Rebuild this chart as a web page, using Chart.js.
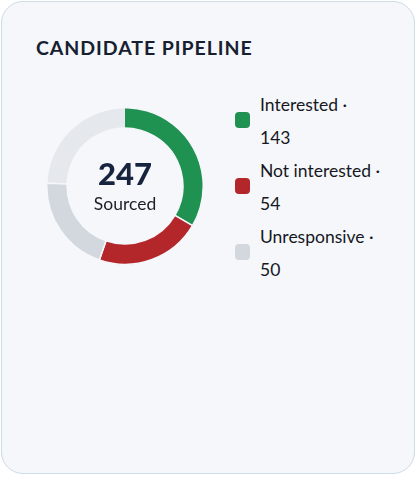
<!DOCTYPE html>
<html>
<head>
<meta charset="utf-8">
<script src="https://cdn.jsdelivr.net/npm/chart.js@4.4.1/dist/chart.umd.min.js"></script>
<style>
  html, body { margin: 0; padding: 0; background: #ffffff; }
  body { width: 418px; height: 477px; position: relative; font-family: Lato, "Open Sans", sans-serif; }
  .card {
    position: absolute; left: 1px; top: 1px; width: 414px; height: 473px;
    border: 1.5px solid #cddce6; border-radius: 22px; background: #f5f7fb;
    box-sizing: border-box;
  }
  .title {
    position: absolute; left: 34px; top: 34px; margin: 0;
    font-size: 19.5px; font-weight: 700; letter-spacing: 0.95px; color: #172030;
  }
  .chartBox { position: absolute; left: 46px; top: 107px; width: 158px; height: 158px; }
  .center {
    position: absolute; left: 46px; top: 107px; width: 158px; height: 158px;
    display: flex; flex-direction: column; align-items: center; justify-content: center;
    pointer-events: none;
  }
  .center .num { font-size: 31px; font-weight: 900; color: #16243d; line-height: 32px; margin-top: 0px; }
  .center .lbl { font-size: 17.5px; color: #1c1f26; line-height: 24px; margin-top: 3px; }
  #legend { position: absolute; left: 235px; top: 88px; margin: 0; padding: 0; list-style: none; }
  #legend li { position: relative; padding-left: 25px; font-size: 17.5px; line-height: 33px; color: #16181d; }
  #legend .box { position: absolute; left: 0; top: 24px; width: 15px; height: 16px; border-radius: 4px; }
</style>
</head>
<body>
<div class="card">
  <h2 class="title">CANDIDATE PIPELINE</h2>
</div>
<div class="chartBox"><canvas id="graficoPipeline"></canvas></div>
<div class="center"><div class="num" id="totalNum"></div><div class="lbl">Sourced</div></div>
<ul id="legend"></ul>

<script>
// dados do gráfico
const categorias = ['Interested', 'Not interested', 'Unresponsive'];
const valores = [143, 54, 50];
const cores = ['#1f9151', '#b3272b', '#d3d8df'];
const corTrilha = '#e5e8ed';
const rotacao = -88;

// parte inicial do arco verde aparece clara (até o topo)
function corFatia(context) {
  const i = context.dataIndex;
  const chart = context.chart;
  if (i !== 0 || !chart.chartArea) return cores[i];
  const area = chart.chartArea;
  const cx = (area.left + area.right) / 2;
  const cy = (area.top + area.bottom) / 2;
  const grad = chart.ctx.createConicGradient(-Math.PI / 2, cx, cy);
  grad.addColorStop(0, cores[0]);
  grad.addColorStop(0.5, cores[0]);
  grad.addColorStop(0.5001, corTrilha);
  grad.addColorStop(1, corTrilha);
  return grad;
}

window.addEventListener('DOMContentLoaded', function () {
  const total = valores.reduce((a, b) => a + b, 0);
  document.getElementById('totalNum').textContent = total;

  const legend = document.getElementById('legend');
  categorias.forEach((cat, i) => {
    const li = document.createElement('li');
    li.innerHTML = `<span class="box" style="background:${cores[i]}"></span>${cat} ·<br>${valores[i]}`;
    legend.appendChild(li);
  });

  const ctx = document.getElementById('graficoPipeline').getContext('2d');
  new Chart(ctx, {
    type: 'doughnut',
    data: {
      labels: categorias,
      datasets: [{
        data: valores,
        backgroundColor: corFatia,
        borderColor: '#f5f7fb',
        borderWidth: 1.5
      }]
    },
    options: {
      responsive: true,
      maintainAspectRatio: false,
      animation: false,
      cutout: '74%',
      rotation: rotacao,
      layout: { padding: 0 },
      plugins: {
        legend: { display: false },
        tooltip: { enabled: false }
      }
    }
  });
});
</script>
</body>
</html>
